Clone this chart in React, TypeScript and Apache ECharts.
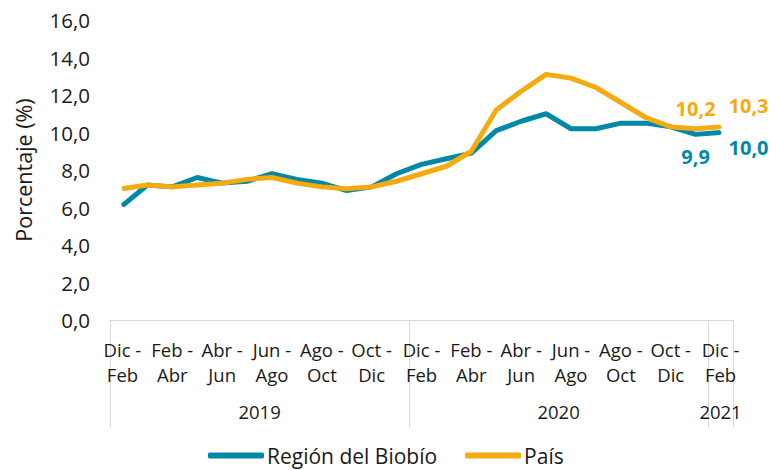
import React, { useEffect, useRef } from "react";
import * as echarts from "echarts";

const categories = [
  "Dic - Feb", "Ene - Mar", "Feb - Abr", "Mar - May", "Abr - Jun", "May - Jul",
  "Jun - Ago", "Jul - Sep", "Ago - Oct", "Sep - Nov", "Oct - Dic", "Nov - Ene",
  "Dic - Feb", "Ene - Mar", "Feb - Abr", "Mar - May", "Abr - Jun", "May - Jul",
  "Jun - Ago", "Jul - Sep", "Ago - Oct", "Sep - Nov", "Oct - Dic", "Nov - Ene",
  "Dic - Feb",
];
const years = ["2019", "2020", "2021"];
const yearSpans = [12, 12, 1];

const biobio = [
  6.1, 7.2, 7.1, 7.6, 7.3, 7.4, 7.8, 7.5, 7.3, 6.9, 7.1, 7.8,
  8.3, 8.6, 8.9, 10.1, 10.6, 11.0, 10.2, 10.2, 10.5, 10.5, 10.3, 9.9,
  10.0,
];
const pais = [
  7.0, 7.2, 7.1, 7.2, 7.3, 7.5, 7.6, 7.3, 7.1, 7.0, 7.1, 7.4,
  7.8, 8.2, 9.0, 11.2, 12.2, 13.1, 12.9, 12.4, 11.6, 10.8, 10.3, 10.2,
  10.3,
];
const yTicks = { min: 0, max: 16, interval: 2 };

const TEAL = "#0089a6";
const ORANGE = "#f5aa0f";
const FONT = "'Open Sans', sans-serif";
const TXT = "#1a1a1a";

const fmt = (v: number) => v.toFixed(1).replace(".", ",");

export default function App() {
  const ref = useRef<HTMLDivElement>(null);
  useEffect(() => {
    if (!ref.current) return;
    const chart = echarts.init(ref.current, undefined, { renderer: "svg" });

    const boundaries: number[] = [];
    const labelIdx: Record<number, { text: string; shift: boolean }> = {};
    let start = 0;
    yearSpans.forEach((n, k) => {
      boundaries.push(start);
      const mid = start + Math.floor((n - 1) / 2);
      labelIdx[mid] = { text: years[k], shift: n % 2 === 0 };
      start += n;
    });

    const last = categories.length - 1;
    const mkData = (arr: number[], color: string, labels: Record<number, any>) =>
      arr.map((v, i) =>
        labels[i]
          ? {
              value: v,
              label: {
                show: true,
                color,
                fontWeight: "bold",
                fontSize: 20,
                fontFamily: FONT,
                formatter: (p: any) => fmt(p.value),
                ...labels[i],
              },
            }
          : v
      );

    chart.setOption({
      animation: false,
      textStyle: { fontFamily: FONT },
      grid: { left: 110, right: 47, top: 20, bottom: 150 },
      legend: {
        bottom: -1,
        left: 203,
        icon: "roundRect",
        itemWidth: 56,
        itemHeight: 6,
        itemGap: 28,
        textStyle: { fontSize: 21, color: TXT, fontFamily: FONT, padding: [0, 0, 0, -2] },
        data: ["Región del Biobío", "País"],
      },
      xAxis: [
        {
          type: "category",
          data: categories,
          position: "bottom",
          axisLine: { lineStyle: { color: "#d9d9d9", width: 1 } },
          axisTick: { show: false },
          axisLabel: {
            interval: 1,
            margin: 17,
            fontSize: 18.5,
            lineHeight: 25,
            color: TXT,
            fontFamily: FONT,
            formatter: (v: string) => v.replace(" - ", " -\n"),
          },
        },
        {
          type: "category",
          data: categories,
          position: "bottom",
          offset: 0,
          axisLine: { show: false },
          axisTick: {
            show: true,
            length: 108,
            interval: (i: number) => boundaries.includes(i),
            lineStyle: { color: "#d9d9d9", width: 1 },
          },
          axisLabel: {
            interval: (i: number) => !!labelIdx[i],
            margin: 82,
            fontSize: 18.5,
            color: TXT,
            fontFamily: FONT,
            formatter: (_v: string, i: number) => {
              const l = labelIdx[i];
              if (!l) return "";
              return l.shift ? `{s|${l.text}}` : `{n|${l.text}}`;
            },
            rich: {
              s: { padding: [0, 0, 0, 25], fontSize: 18.5, color: TXT, fontFamily: FONT },
              n: { fontSize: 18.5, color: TXT, fontFamily: FONT },
            },
          },
        },
      ],
      yAxis: {
        type: "value",
        min: yTicks.min,
        max: yTicks.max,
        interval: yTicks.interval,
        name: "Porcentaje (%)",
        nameLocation: "middle",
        nameGap: 76,
        nameTextStyle: { fontSize: 21.5, color: TXT, fontFamily: FONT },
        splitLine: { show: false },
        axisLine: { show: false },
        axisTick: { show: false },
        axisLabel: {
          margin: 20,
          fontSize: 20.5,
          color: TXT,
          fontFamily: FONT,
          formatter: (v: number) => fmt(v),
        },
      },
      series: [
        {
          name: "Región del Biobío",
          type: "line",
          xAxisIndex: 0,
          symbol: "circle",
          symbolSize: 2,
          showSymbol: true,
          color: TEAL,
          itemStyle: { color: TEAL },
          lineStyle: { width: 5, color: TEAL },
          data: mkData(biobio, TEAL, {
            [last - 1]: { position: "bottom", distance: 11 },
            [last]: { position: "right", distance: 7, offset: [0, 15] },
          }),
          z: 2,
        },
        {
          name: "País",
          type: "line",
          xAxisIndex: 0,
          symbol: "circle",
          symbolSize: 2,
          showSymbol: true,
          color: ORANGE,
          itemStyle: { color: ORANGE },
          lineStyle: { width: 5, color: ORANGE },
          data: mkData(pais, ORANGE, {
            [last - 1]: { position: "top", distance: 9 },
            [last]: { position: "right", distance: 7, offset: [0, -21] },
          }),
          z: 3,
        },
      ],
    });
    return () => chart.dispose();
  }, []);
  return (
    <div
      ref={ref}
      style={{ position: "fixed", left: 0, top: 0, width: 780, height: 470, background: "#fff" }}
    />
  );
}
